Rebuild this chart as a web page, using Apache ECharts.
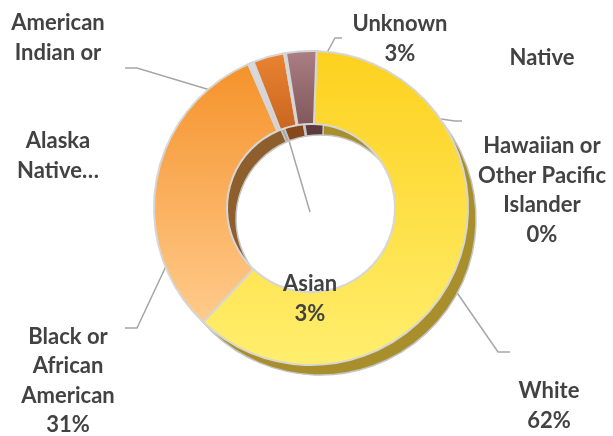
<!DOCTYPE html>
<html lang="en">
<head>
    <meta charset="UTF-8">
    <script src="https://cdn.jsdelivr.net/npm/echarts@6/dist/echarts.min.js"></script>
    <title>Race / ethnicity</title>
    <style>
        body { margin: 0; background: #fff; }
    </style>
</head>
<body>
<div id="main" style="width: 613px;height:436px;"></div>

<script type="text/javascript">
    // data, clockwise from 12 o'clock
    var categories = ['White', 'Black or African American', 'American Indian or Alaska Native',
        'Asian', 'Native Hawaiian or Other Pacific Islander', 'Unknown'];
    var values = [61.5, 31.4, 0.6, 3.2, 0.2, 3.1];
    // label text as wrapped in the original
    var labelTexts = ['White', 'Black or\nAfrican\nAmerican', 'American\nIndian or\n\n\nAlaska\nNative…',
        'Asian', 'Native\n\n\nHawaiian or\nOther Pacific\nIslander', 'Unknown'];
    var showPercent = [true, true, false, true, true, true];

    // look
    var topColors = [
        ['#fdd11e', '#ffee6e'],
        ['#f5922a', '#ffcb8c'],
        ['#dcdcdc', '#cfcfcf'],
        ['#ea8432', '#c9651f'],
        ['#dedede', '#d0d0d0'],
        ['#ab7f83', '#80575b']
    ];
    var sideColors = ['#a98f2c', '#8f5e2d', '#a8a8a8', '#86481c', '#a8a8a8', '#5c3a3e'];

    // label anchor + leader line (start on slice -> bend -> end at text)
    var labelPos = [
        {x: 549, y: 406, line: [[433, 258], [498, 352], [510, 352]]},
        {x: 68, y: 381, line: [[197, 200], [137, 328], [125, 328]]},
        {x: 58, y: 97, line: [[260, 105], [137, 68], [125, 68]]},
        {x: 310, y: 299, line: [[277, 100], [310, 212], [310, 212]]},
        {x: 542, y: 146, line: [[288, 97], [455, 121], [462, 121]]},
        {x: 400, y: 39, line: [[305, 93], [335, 38], [342, 38]]}
    ];

    var topData = [], sideData = [];
    for (var i = 0; i < categories.length; i++) {
        topData.push({
            name: categories[i],
            value: values[i],
            itemStyle: {
                color: new echarts.graphic.LinearGradient(0, 0, 0, 1, [
                    {offset: 0, color: topColors[i][0]},
                    {offset: 1, color: topColors[i][1]}
                ])
            }
        });
        sideData.push({
            name: categories[i],
            value: values[i],
            itemStyle: {color: sideColors[i]}
        });
    }

    var myChart = echarts.init(document.getElementById('main'));
    var option = {
        backgroundColor: '#fff',
        animation: false,
        series: [
            {
                // lower layer, gives the bevel / depth
                type: 'pie',
                silent: true,
                center: [320, 219],
                radius: [84, 156],
                startAngle: 88,
                clockwise: true,
                label: {show: false},
                labelLine: {show: false},
                itemStyle: {borderColor: '#c4c4c4', borderWidth: 1.5},
                data: sideData
            },
            {
                type: 'pie',
                center: [311, 208],
                radius: [84, 157],
                startAngle: 88,
                clockwise: true,
                percentPrecision: 0,
                avoidLabelOverlap: false,
                itemStyle: {borderColor: '#d6d6d6', borderWidth: 2},
                label: {
                    show: true,
                    position: 'outside',
                    fontFamily: 'Lato',
                    fontWeight: 'bold',
                    fontSize: 22,
                    lineHeight: 29.5,
                    color: '#424242',
                    align: 'center',
                    formatter: function (p) {
                        var t = labelTexts[p.dataIndex];
                        if (showPercent[p.dataIndex]) t += '\n' + p.percent + '%';
                        return t;
                    }
                },
                labelLine: {
                    show: true,
                    lineStyle: {color: '#a6a6a6', width: 1.5}
                },
                labelLayout: function (params) {
                    var lp = labelPos[params.dataIndex];
                    return {
                        x: lp.x,
                        y: lp.y,
                        align: 'center',
                        verticalAlign: 'middle',
                        labelLinePoints: lp.line
                    };
                },
                data: topData
            }
        ]
    };
    myChart.setOption(option);
</script>
</body>
</html>
